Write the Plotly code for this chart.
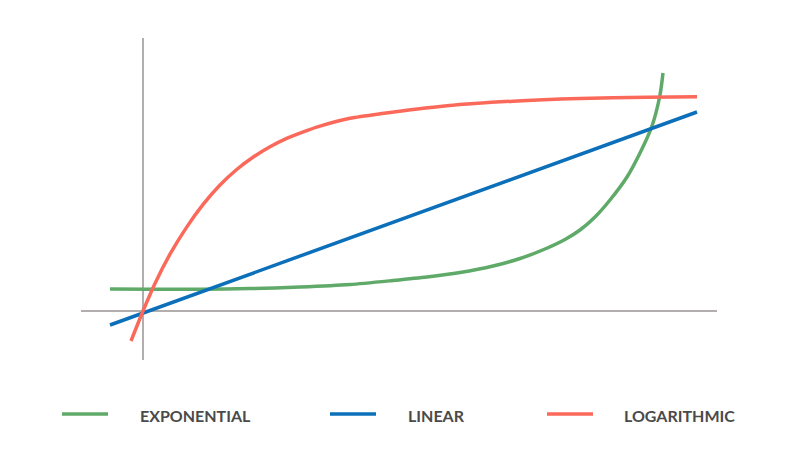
import plotly.graph_objects as go

# Data (chart units: axes cross at 0,0; 1 unit = 50 px on both axes)
series_names = ["EXPONENTIAL", "LINEAR", "LOGARITHMIC"]
series_colors = ["#5faa69", "#0c6fba", "#fa695a"]

exp_x = [-0.66, 0.14, 1.14, 2.14, 3.14, 4.14, 5.0, 5.68, 6.34, 7.0, 7.54, 8.04,
         8.44, 8.74, 9.04, 9.34, 9.68, 9.94, 10.18, 10.34, 10.4]
exp_y = [0.44, 0.434, 0.436, 0.448, 0.48, 0.53, 0.61, 0.68, 0.77, 0.9, 1.05, 1.24,
         1.43, 1.62, 1.88, 2.22, 2.68, 3.16, 3.7, 4.32, 4.76]

lin_x = [-0.66, 11.08]
lin_y = [-0.28, 3.98]

log_x = [-0.24, 0.0, 0.24, 0.54, 0.874, 1.206, 1.54, 1.874, 2.206, 2.54, 2.874,
         3.206, 3.54, 4.14, 4.74, 6.08, 7.4, 8.74, 10.08, 11.08]
log_y = [-0.6, 0.0, 0.552, 1.136, 1.678, 2.136, 2.52, 2.83, 3.08, 3.286, 3.454,
         3.584, 3.698, 3.854, 3.944, 4.104, 4.196, 4.25, 4.276, 4.284]

W, H = 800, 456
fig = go.Figure()
for xs, ys, name, col in zip([exp_x, lin_x, log_x], [exp_y, lin_y, log_y],
                             series_names, series_colors):
    fig.add_trace(go.Scatter(x=xs, y=ys, mode="lines", name=name,
                             line=dict(color=col, width=3.5, shape="spline", smoothing=0.7),
                             hoverinfo="skip"))

axis_col = "#b3aeae"
shapes = [
    dict(type="line", xref="x", yref="y", x0=-1.24, x1=11.48, y0=0, y1=0,
         line=dict(color=axis_col, width=2), layer="below"),
    dict(type="line", xref="x", yref="y", x0=0, x1=0, y0=-0.98, y1=5.46,
         line=dict(color=axis_col, width=2), layer="below"),
]

# Manual legend
leg_line_x = [62, 330, 547]
leg_text_x = [140, 408, 624]
leg_y = 414
annotations = []
for lx, tx, name, col in zip(leg_line_x, leg_text_x, series_names, series_colors):
    shapes.append(dict(type="line", xref="paper", yref="paper",
                       x0=lx / W, x1=(lx + 46) / W, y0=1 - leg_y / H, y1=1 - leg_y / H,
                       line=dict(color=col, width=3.5)))
    annotations.append(dict(xref="paper", yref="paper", x=(tx - 2) / W, y=1 - (leg_y + 1.5) / H,
                            text=name, showarrow=False, xanchor="left", yanchor="middle",
                            font=dict(family="Lato", size=16, color="#4a4a4a", weight="bold")))

fig.update_layout(
    width=W, height=H, margin=dict(l=0, r=0, t=0, b=0),
    paper_bgcolor="white", plot_bgcolor="white", showlegend=False,
    xaxis=dict(range=[-2.86, 13.14], visible=False, fixedrange=True),
    yaxis=dict(range=[-2.9, 6.22], visible=False, fixedrange=True),
    shapes=shapes, annotations=annotations,
)
fig.write_html("out.html")
